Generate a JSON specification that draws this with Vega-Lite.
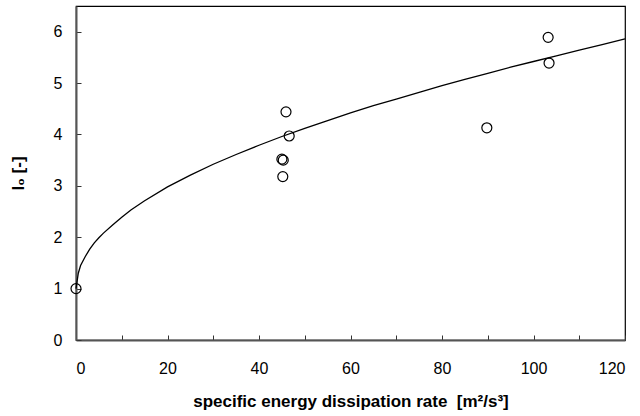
{
  "$schema": "https://vega.github.io/schema/vega-lite/v6.json",
  "width": 549,
  "height": 334,
  "autosize": {"type": "none"},
  "padding": {"left": 76, "top": 6, "right": 15, "bottom": 76},
  "background": "white",
  "config": {
    "view": {"stroke": "black", "strokeWidth": 1.2},
    "axis": {
      "grid": false,
      "domainColor": "#555555",
      "domainWidth": 2,
      "tickColor": "#333333",
      "tickSize": -5,
      "labelFont": "Liberation Sans",
      "labelFontSize": 16,
      "labelColor": "black",
      "titleFont": "Liberation Sans",
      "titleFontSize": 17,
      "titleFontWeight": "bold",
      "titleColor": "black"
    }
  },
  "datasets": {
    "curve": [
      {"x": 0, "y": 1.0}, {"x": 0.5, "y": 1.3}, {"x": 1, "y": 1.45}, {"x": 2, "y": 1.62},
      {"x": 3, "y": 1.77}, {"x": 4, "y": 1.89}, {"x": 5, "y": 1.99}, {"x": 6, "y": 2.08},
      {"x": 8, "y": 2.24}, {"x": 10, "y": 2.39}, {"x": 12, "y": 2.53}, {"x": 15, "y": 2.71},
      {"x": 20, "y": 2.98}, {"x": 25, "y": 3.21}, {"x": 30, "y": 3.42}, {"x": 35, "y": 3.61},
      {"x": 40, "y": 3.79}, {"x": 45, "y": 3.96}, {"x": 50, "y": 4.12}, {"x": 55, "y": 4.27},
      {"x": 60, "y": 4.42}, {"x": 65, "y": 4.56}, {"x": 70, "y": 4.69}, {"x": 75, "y": 4.82},
      {"x": 80, "y": 4.95}, {"x": 85, "y": 5.07}, {"x": 90, "y": 5.19}, {"x": 95, "y": 5.31},
      {"x": 100, "y": 5.42}, {"x": 105, "y": 5.53}, {"x": 110, "y": 5.64}, {"x": 115, "y": 5.75},
      {"x": 120, "y": 5.86}
    ],
    "points": [
      {"x": 0, "y": 1.0}, {"x": 45.2, "y": 3.18}, {"x": 45.0, "y": 3.52}, {"x": 45.3, "y": 3.5},
      {"x": 45.9, "y": 4.44}, {"x": 46.6, "y": 3.97}, {"x": 89.8, "y": 4.13},
      {"x": 103.2, "y": 5.89}, {"x": 103.4, "y": 5.39}
    ]
  },
  "layer": [
    {
      "data": {"name": "curve"},
      "mark": {"type": "line", "color": "black", "strokeWidth": 1.3},
      "encoding": {
        "x": {
          "field": "x", "type": "quantitative",
          "scale": {"domain": [0, 120], "nice": false},
          "axis": {
            "values": [0, 10, 20, 30, 40, 50, 60, 70, 80, 90, 100, 110, 120],
            "labelExpr": "datum.value % 20 === 0 ? datum.label : ''",
            "labelPadding": 25,
            "title": "specific energy dissipation rate\u00a0\u00a0[m²/s³]",
            "titlePadding": 17
          }
        },
        "y": {
          "field": "y", "type": "quantitative",
          "scale": {"domain": [0, 6.5], "nice": false},
          "axis": {
            "values": [0, 0.5, 1, 1.5, 2, 2.5, 3, 3.5, 4, 4.5, 5, 5.5, 6, 6.5],
            "labelExpr": "datum.value % 1 === 0 ? datum.label : ''",
            "labelPadding": 19,
            "title": "I₀ [-]",
            "titlePadding": 26
          }
        }
      }
    },
    {
      "data": {"name": "points"},
      "mark": {"type": "point", "shape": "circle", "filled": false, "stroke": "black", "strokeWidth": 1.2, "size": 100, "opacity": 1},
      "encoding": {
        "x": {"field": "x", "type": "quantitative"},
        "y": {"field": "y", "type": "quantitative"}
      }
    }
  ]
}
